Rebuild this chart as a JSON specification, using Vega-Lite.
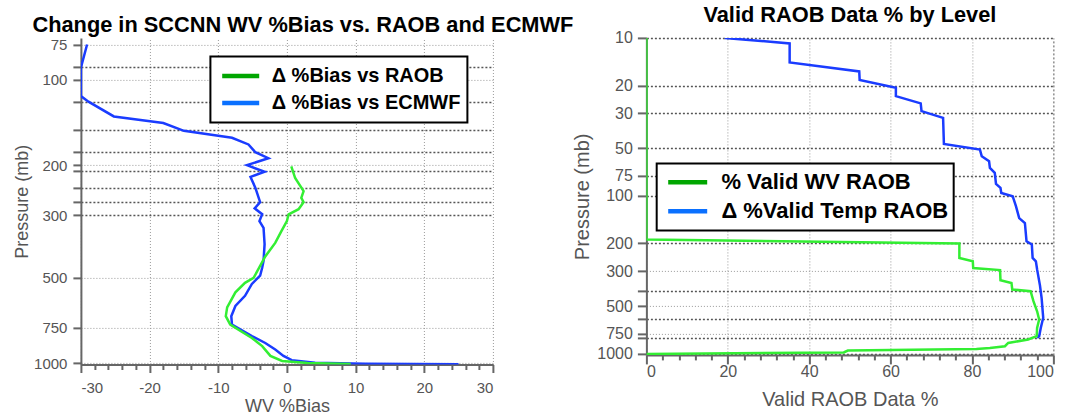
{
  "$schema": "https://vega.github.io/schema/vega-lite/v6.json",
  "padding": {"left": 12.9, "top": 3.9, "right": 5, "bottom": 0},
  "config": {
    "view": {"stroke": null},
    "font": "Liberation Sans",
    "axis": {"labelFont": "Liberation Sans", "titleFont": "Liberation Sans", "labelColor": "#555555", "titleColor": "#555555", "titleFontWeight": "normal", "domainColor": "#666666", "tickColor": "#666666", "domainWidth": 2, "tickWidth": 2, "labelOverlap": false},
    "title": {"font": "Liberation Sans", "fontWeight": "bold", "color": "black", "baseline": "top"},
    "legend": {"labelFont": "Liberation Sans"}
  },
  "datasets": {
    "left": [
      {"src": "Δ %Bias vs ECMWF", "bias": -29.1, "p": 75},
      {"src": "Δ %Bias vs ECMWF", "bias": -30, "p": 90.5},
      {"src": "Δ %Bias vs ECMWF", "bias": -30, "p": 114},
      {"src": "Δ %Bias vs ECMWF", "bias": -28.9, "p": 119.4},
      {"src": "Δ %Bias vs ECMWF", "bias": -25.2, "p": 134.6},
      {"src": "Δ %Bias vs ECMWF", "bias": -18, "p": 142},
      {"src": "Δ %Bias vs ECMWF", "bias": -15, "p": 151.3},
      {"src": "Δ %Bias vs ECMWF", "bias": -8, "p": 160},
      {"src": "Δ %Bias vs ECMWF", "bias": -5.6, "p": 169},
      {"src": "Δ %Bias vs ECMWF", "bias": -4.6, "p": 180},
      {"src": "Δ %Bias vs ECMWF", "bias": -2.7, "p": 189},
      {"src": "Δ %Bias vs ECMWF", "bias": -5.8, "p": 200},
      {"src": "Δ %Bias vs ECMWF", "bias": -3.25, "p": 211},
      {"src": "Δ %Bias vs ECMWF", "bias": -5.3, "p": 220},
      {"src": "Δ %Bias vs ECMWF", "bias": -4.6, "p": 240},
      {"src": "Δ %Bias vs ECMWF", "bias": -3.9, "p": 270},
      {"src": "Δ %Bias vs ECMWF", "bias": -4.7, "p": 284},
      {"src": "Δ %Bias vs ECMWF", "bias": -3.6, "p": 298},
      {"src": "Δ %Bias vs ECMWF", "bias": -4.0, "p": 315},
      {"src": "Δ %Bias vs ECMWF", "bias": -3.4, "p": 333},
      {"src": "Δ %Bias vs ECMWF", "bias": -3.25, "p": 380},
      {"src": "Δ %Bias vs ECMWF", "bias": -3.4, "p": 435},
      {"src": "Δ %Bias vs ECMWF", "bias": -3.6, "p": 460},
      {"src": "Δ %Bias vs ECMWF", "bias": -3.9, "p": 491},
      {"src": "Δ %Bias vs ECMWF", "bias": -5.1, "p": 525},
      {"src": "Δ %Bias vs ECMWF", "bias": -6.1, "p": 578},
      {"src": "Δ %Bias vs ECMWF", "bias": -7.5, "p": 628},
      {"src": "Δ %Bias vs ECMWF", "bias": -8.1, "p": 682},
      {"src": "Δ %Bias vs ECMWF", "bias": -8.0, "p": 730},
      {"src": "Δ %Bias vs ECMWF", "bias": -5.1, "p": 802},
      {"src": "Δ %Bias vs ECMWF", "bias": -3.15, "p": 848},
      {"src": "Δ %Bias vs ECMWF", "bias": -1.7, "p": 894},
      {"src": "Δ %Bias vs ECMWF", "bias": -0.5, "p": 942},
      {"src": "Δ %Bias vs ECMWF", "bias": 0.7, "p": 975},
      {"src": "Δ %Bias vs ECMWF", "bias": 4.1, "p": 996},
      {"src": "Δ %Bias vs ECMWF", "bias": 11.4, "p": 1004},
      {"src": "Δ %Bias vs ECMWF", "bias": 25, "p": 1008},
      {"src": "Δ %Bias vs RAOB", "bias": 0.64, "p": 202},
      {"src": "Δ %Bias vs RAOB", "bias": 1.2, "p": 222},
      {"src": "Δ %Bias vs RAOB", "bias": 2.43, "p": 247},
      {"src": "Δ %Bias vs RAOB", "bias": 2.1, "p": 261},
      {"src": "Δ %Bias vs RAOB", "bias": 2.43, "p": 270},
      {"src": "Δ %Bias vs RAOB", "bias": 1.7, "p": 286},
      {"src": "Δ %Bias vs RAOB", "bias": 0.25, "p": 298},
      {"src": "Δ %Bias vs RAOB", "bias": 0.0, "p": 315},
      {"src": "Δ %Bias vs RAOB", "bias": -0.8, "p": 342},
      {"src": "Δ %Bias vs RAOB", "bias": -1.7, "p": 376},
      {"src": "Δ %Bias vs RAOB", "bias": -3.15, "p": 420},
      {"src": "Δ %Bias vs RAOB", "bias": -4.85, "p": 500},
      {"src": "Δ %Bias vs RAOB", "bias": -6.1, "p": 520},
      {"src": "Δ %Bias vs RAOB", "bias": -7.5, "p": 562},
      {"src": "Δ %Bias vs RAOB", "bias": -8.7, "p": 635},
      {"src": "Δ %Bias vs RAOB", "bias": -8.9, "p": 682},
      {"src": "Δ %Bias vs RAOB", "bias": -8.25, "p": 730},
      {"src": "Δ %Bias vs RAOB", "bias": -5.1, "p": 814},
      {"src": "Δ %Bias vs RAOB", "bias": -3.6, "p": 870},
      {"src": "Δ %Bias vs RAOB", "bias": -2.4, "p": 942},
      {"src": "Δ %Bias vs RAOB", "bias": -0.7, "p": 981},
      {"src": "Δ %Bias vs RAOB", "bias": 3, "p": 997},
      {"src": "Δ %Bias vs RAOB", "bias": 9.3, "p": 1006}
    ],
    "right": [
      {"src2": "% Valid WV RAOB", "pct": 0, "p": 10},
      {"src2": "% Valid WV RAOB", "pct": 0, "p": 189.5},
      {"src2": "% Valid WV RAOB", "pct": 76.9, "p": 201},
      {"src2": "% Valid WV RAOB", "pct": 76.9, "p": 248},
      {"src2": "% Valid WV RAOB", "pct": 80.2, "p": 260},
      {"src2": "% Valid WV RAOB", "pct": 80.3, "p": 287},
      {"src2": "% Valid WV RAOB", "pct": 86.9, "p": 296},
      {"src2": "% Valid WV RAOB", "pct": 87, "p": 343},
      {"src2": "% Valid WV RAOB", "pct": 89.7, "p": 357},
      {"src2": "% Valid WV RAOB", "pct": 89.9, "p": 393},
      {"src2": "% Valid WV RAOB", "pct": 94.4, "p": 403},
      {"src2": "% Valid WV RAOB", "pct": 95.1, "p": 466},
      {"src2": "% Valid WV RAOB", "pct": 96, "p": 540},
      {"src2": "% Valid WV RAOB", "pct": 96.5, "p": 609},
      {"src2": "% Valid WV RAOB", "pct": 96, "p": 689},
      {"src2": "% Valid WV RAOB", "pct": 95.9, "p": 777},
      {"src2": "% Valid WV RAOB", "pct": 93.8, "p": 815},
      {"src2": "% Valid WV RAOB", "pct": 88.9, "p": 857},
      {"src2": "% Valid WV RAOB", "pct": 88.1, "p": 899},
      {"src2": "% Valid WV RAOB", "pct": 84.4, "p": 921},
      {"src2": "% Valid WV RAOB", "pct": 81.1, "p": 935},
      {"src2": "% Valid WV RAOB", "pct": 49.5, "p": 957},
      {"src2": "% Valid WV RAOB", "pct": 48.5, "p": 985},
      {"src2": "% Valid WV RAOB", "pct": 0, "p": 1006},
      {"src2": "Δ %Valid Temp RAOB", "pct": 19.25, "p": 10},
      {"src2": "Δ %Valid Temp RAOB", "pct": 35.2, "p": 10.85},
      {"src2": "Δ %Valid Temp RAOB", "pct": 35.2, "p": 14.3},
      {"src2": "Δ %Valid Temp RAOB", "pct": 52.3, "p": 16.3},
      {"src2": "Δ %Valid Temp RAOB", "pct": 52.4, "p": 18.5},
      {"src2": "Δ %Valid Temp RAOB", "pct": 61.3, "p": 20.7},
      {"src2": "Δ %Valid Temp RAOB", "pct": 61.3, "p": 23.4},
      {"src2": "Δ %Valid Temp RAOB", "pct": 67.4, "p": 26},
      {"src2": "Δ %Valid Temp RAOB", "pct": 67.6, "p": 29.1},
      {"src2": "Δ %Valid Temp RAOB", "pct": 72.9, "p": 32.1},
      {"src2": "Δ %Valid Temp RAOB", "pct": 73.1, "p": 47},
      {"src2": "Δ %Valid Temp RAOB", "pct": 81.95, "p": 51},
      {"src2": "Δ %Valid Temp RAOB", "pct": 82.4, "p": 56.2},
      {"src2": "Δ %Valid Temp RAOB", "pct": 84.2, "p": 60.4},
      {"src2": "Δ %Valid Temp RAOB", "pct": 84.4, "p": 66.7},
      {"src2": "Δ %Valid Temp RAOB", "pct": 85.6, "p": 71.7},
      {"src2": "Δ %Valid Temp RAOB", "pct": 85.9, "p": 84.2},
      {"src2": "Δ %Valid Temp RAOB", "pct": 87, "p": 89.2},
      {"src2": "Δ %Valid Temp RAOB", "pct": 87.2, "p": 96},
      {"src2": "Δ %Valid Temp RAOB", "pct": 90, "p": 100.7},
      {"src2": "Δ %Valid Temp RAOB", "pct": 90.8, "p": 116.5},
      {"src2": "Δ %Valid Temp RAOB", "pct": 91.6, "p": 138.6},
      {"src2": "Δ %Valid Temp RAOB", "pct": 93, "p": 148.9},
      {"src2": "Δ %Valid Temp RAOB", "pct": 93.4, "p": 194.3},
      {"src2": "Δ %Valid Temp RAOB", "pct": 94.7, "p": 203.9},
      {"src2": "Δ %Valid Temp RAOB", "pct": 94.9, "p": 247.8},
      {"src2": "Δ %Valid Temp RAOB", "pct": 95.7, "p": 260.3},
      {"src2": "Δ %Valid Temp RAOB", "pct": 96, "p": 293},
      {"src2": "Δ %Valid Temp RAOB", "pct": 96.7, "p": 370},
      {"src2": "Δ %Valid Temp RAOB", "pct": 97.1, "p": 443},
      {"src2": "Δ %Valid Temp RAOB", "pct": 97.5, "p": 593},
      {"src2": "Δ %Valid Temp RAOB", "pct": 96.9, "p": 688},
      {"src2": "Δ %Valid Temp RAOB", "pct": 96.5, "p": 777},
      {"src2": "Δ %Valid Temp RAOB", "pct": 96, "p": 795}
    ]
  },
  "spacing": -2.5,
  "resolve": {"scale": {"color": "independent"}, "legend": {"color": "independent"}},
  "hconcat": [
    {
      "width": 412,
      "height": 326.6,
      "title": {"text": "Change in SCCNN WV %Bias vs. RAOB and ECMWF", "fontSize": 21.8, "dx": 16, "offset": 0.5},
      "data": {"name": "left"},
      "resolve": {"axis": {"x": "independent", "y": "independent"}},
      "layer": [
        {
          "transform": [{"filter": "datum.src === 'Δ %Bias vs ECMWF'"}],
          "mark": {"type": "line", "color": "#1a3cff", "strokeWidth": 2.5, "clip": true},
          "encoding": {
            "x": {"field": "bias", "type": "quantitative", "scale": {"domain": [-30, 30], "nice": false, "zero": false},
              "axis": {"orient": "bottom", "values": [-30, -20, -10, 0, 10, 20, 30], "labelExpr": "datum.value < 0 ? '-' + abs(datum.value) : '' + datum.value", "title": "WV %Bias", "titleFontSize": 18, "labelFontSize": 15, "tickSize": 8, "labelPadding": 8, "titlePadding": 1.7, "grid": true, "gridColor": "#999999", "gridDash": [1, 2], "gridWidth": 1}},
            "y": {"field": "p", "type": "quantitative", "scale": {"type": "log", "domain": [71.1, 1010], "nice": false, "reverse": true},
              "axis": {"orient": "left", "values": [75, 90, 100, 120, 150, 180, 200, 210, 240, 270, 300, 500, 750, 1000], "format": "d",
                "labelExpr": "indexof([75,100,200,300,500,750,1000], datum.value) >= 0 ? datum.label : ''",
                "title": "Pressure (mb)", "titleFontSize": 18, "labelFontSize": 15, "tickSize": 8, "labelPadding": 6, "titlePadding": 2, "grid": true,
                "gridColor": {"condition": {"test": "indexof([90,120,150,180,210,240,270,300], datum.value) >= 0", "value": "#555555"}, "value": "#999999"},
                "gridDash": {"condition": {"test": "indexof([90,120,150,180,210,240,270,300], datum.value) >= 0", "value": [2, 2]}, "value": [1, 2]},
                "gridWidth": {"condition": {"test": "indexof([90,120,150,180,210,240,270,300], datum.value) >= 0", "value": 1.5}, "value": 1}}},
            "order": {"value": null}
          }
        },
        {
          "transform": [{"filter": "datum.src === 'Δ %Bias vs RAOB'"}],
          "mark": {"type": "line", "color": "#33ee33", "strokeWidth": 2.5, "clip": true},
          "encoding": {
            "x": {"field": "bias", "type": "quantitative", "axis": null},
            "y": {"field": "p", "type": "quantitative", "axis": null},
            "order": {"value": null}
          }
        },
        {
          "transform": [{"filter": "false"}],
          "mark": {"type": "line"},
          "encoding": {
            "x": {"field": "bias", "type": "quantitative",
              "axis": {"orient": "bottom", "values": [-28, -26, -24, -22, -18, -16, -14, -12, -8, -6, -4, -2, 2, 4, 6, 8, 12, 14, 16, 18, 22, 24, 26, 28], "labels": false, "domain": false, "grid": false, "title": null, "tickSize": 5}},
            "y": {"field": "p", "type": "quantitative", "axis": null},
            "color": {"field": "src", "type": "nominal",
              "scale": {"domain": ["Δ %Bias vs RAOB", "Δ %Bias vs ECMWF"], "range": ["#00a600", "#0a70ff"]},
              "legend": {"orient": "none", "legendX": 129.5, "legendY": 18.5, "title": null, "symbolType": "stroke", "symbolSize": 1369, "symbolStrokeWidth": 4.5, "symbolOffset": 3.3, "labelFontSize": 20, "labelFontWeight": "bold", "labelColor": "black", "fillColor": "white", "strokeColor": "black", "padding": 6, "rowPadding": 0, "clipHeight": 27, "labelOffset": 10, "labelLimit": 400,
                "encode": {"legend": {"update": {"strokeWidth": {"value": 2}}}}}}
          }
        }
      ]
    },
    {
      "width": 407,
      "height": 317,
      "title": {"text": "Valid RAOB Data % by Level", "fontSize": 21.8, "dx": 0, "offset": 3.5},
      "data": {"name": "right"},
      "resolve": {"axis": {"x": "independent", "y": "independent"}},
      "layer": [
        {
          "transform": [{"filter": "datum.src2 === 'Δ %Valid Temp RAOB'"}],
          "mark": {"type": "line", "color": "#1a3cff", "strokeWidth": 2.5, "clip": true},
          "encoding": {
            "x": {"field": "pct", "type": "quantitative", "scale": {"domain": [0, 100], "nice": false},
              "axis": {"orient": "bottom", "values": [0, 20, 40, 60, 80, 100], "title": "Valid RAOB Data %", "titleFontSize": 20, "labelFontSize": 16, "tickSize": 9, "labelPadding": 0, "titlePadding": 10, "grid": true,
                "gridColor": {"condition": {"test": "datum.value === 100", "value": "#555555"}, "value": "#999999"},
                "gridDash": {"condition": {"test": "datum.value === 100", "value": [2, 2]}, "value": [1, 2]}, "gridWidth": 1}},
            "y": {"field": "p", "type": "quantitative", "scale": {"type": "log", "domain": [10, 1020], "nice": false, "reverse": true},
              "axis": {"orient": "left", "values": [10, 20, 30, 50, 75, 100, 200, 300, 400, 500, 600, 750, 800, 1000], "format": "d",
                "labelExpr": "indexof([400,600,800], datum.value) >= 0 ? '' : datum.label",
                "title": "Pressure (mb)", "titleFontSize": 20, "labelFontSize": 16, "tickSize": 9, "labelPadding": 5, "titlePadding": 4.7, "grid": true,
                "gridColor": {"condition": {"test": "indexof([300,500,750], datum.value) >= 0", "value": "#999999"}, "value": "#555555"},
                "gridDash": {"condition": {"test": "indexof([300,500,750], datum.value) >= 0", "value": [1, 2]}, "value": [2, 2]},
                "gridWidth": {"condition": {"test": "indexof([300,500,750], datum.value) >= 0", "value": 1}, "value": 1.5}}},
            "order": {"value": null}
          }
        },
        {
          "transform": [{"filter": "datum.src2 === '% Valid WV RAOB'"}],
          "mark": {"type": "line", "color": "#33ee33", "strokeWidth": 2.5, "clip": true},
          "encoding": {
            "x": {"field": "pct", "type": "quantitative", "axis": null},
            "y": {"field": "p", "type": "quantitative", "axis": null},
            "order": {"value": null}
          }
        },
        {
          "transform": [{"filter": "false"}],
          "mark": {"type": "line"},
          "encoding": {
            "x": {"field": "pct", "type": "quantitative",
              "axis": {"orient": "bottom", "values": [4, 8, 12, 16, 24, 28, 32, 36, 44, 48, 52, 56, 64, 68, 72, 76, 84, 88, 92, 96], "labels": false, "domain": false, "grid": false, "title": null, "tickSize": 5}},
            "y": {"field": "p", "type": "quantitative", "axis": null},
            "color": {"field": "src2", "type": "nominal",
              "scale": {"domain": ["% Valid WV RAOB", "Δ %Valid Temp RAOB"], "range": ["#00a600", "#0a70ff"]},
              "legend": {"orient": "none", "legendX": 10.3, "legendY": 125.6, "title": null, "symbolType": "stroke", "symbolSize": 1521, "symbolStrokeWidth": 4.5, "symbolOffset": 4.5, "labelFontSize": 22, "labelFontWeight": "bold", "labelColor": "black", "fillColor": "white", "strokeColor": "black", "padding": 4.5, "rowPadding": 0, "clipHeight": 28.3, "labelOffset": 11.7, "labelLimit": 400,
                "encode": {"legend": {"update": {"strokeWidth": {"value": 2}}}}}}
          }
        }
      ]
    }
  ]
}
